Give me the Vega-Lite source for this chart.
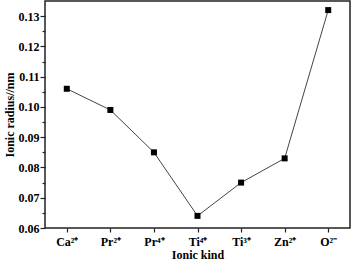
{
  "$schema": "https://vega.github.io/schema/vega-lite/v6.json",
  "width": 305,
  "height": 227,
  "autosize": "none",
  "padding": {"left": 45, "top": 1, "right": 2, "bottom": 33},
  "background": "white",
  "config": {
    "view": {"stroke": "#222", "strokeWidth": 1.5},
    "font": "Liberation Serif"
  },
  "data": {
    "values": [
      {"ion": "Ca²⁺", "radius": 0.106},
      {"ion": "Pr²⁺", "radius": 0.099},
      {"ion": "Pr⁴⁺", "radius": 0.085},
      {"ion": "Ti⁴⁺", "radius": 0.064},
      {"ion": "Ti³⁺", "radius": 0.075},
      {"ion": "Zn²⁺", "radius": 0.083},
      {"ion": "O²⁻", "radius": 0.132}
    ]
  },
  "encoding": {
    "x": {
      "field": "ion",
      "type": "nominal",
      "sort": null,
      "scale": {"type": "point", "padding": 0.5},
      "axis": {
        "title": "Ionic kind",
        "labelAngle": 0,
        "labelFont": "Liberation Serif",
        "labelFontWeight": "bold",
        "labelFontSize": 12,
        "labelColor": "#000",
        "titleFont": "Liberation Serif",
        "titleFontWeight": "bold",
        "titleFontSize": 12,
        "titleColor": "#000",
        "titlePadding": 2,
        "domain": false,
        "tickColor": "#222",
        "tickSize": 4,
        "tickWidth": 1.2,
        "labelPadding": 4,
        "grid": false
      }
    },
    "y": {
      "field": "radius",
      "type": "quantitative",
      "scale": {"domain": [0.06, 0.135], "nice": false, "zero": false},
      "axis": {
        "title": "Ionic radius//nm",
        "values": [0.06, 0.065, 0.07, 0.075, 0.08, 0.085, 0.09, 0.095, 0.1, 0.105, 0.11, 0.115, 0.12, 0.125, 0.13],
        "labelExpr": "round(datum.value*200) % 2 == 0 ? format(datum.value, '.2f') : ''",
        "tickSize": {"condition": {"test": "round(datum.value*200) % 2 == 0", "value": 5}, "value": 3},
        "labelFont": "Liberation Serif",
        "labelFontWeight": "bold",
        "labelFontSize": 12,
        "labelColor": "#000",
        "labelPadding": 1,
        "titleFont": "Liberation Serif",
        "titleFontWeight": "bold",
        "titleFontSize": 12,
        "titleColor": "#000",
        "titlePadding": 2,
        "domain": false,
        "tickColor": "#222",
        "tickWidth": 1.2,
        "grid": false
      }
    }
  },
  "layer": [
    {"mark": {"type": "line", "color": "#444", "strokeWidth": 1}},
    {"mark": {"type": "point", "shape": "square", "filled": true, "color": "#000", "size": 36, "opacity": 1}}
  ]
}
